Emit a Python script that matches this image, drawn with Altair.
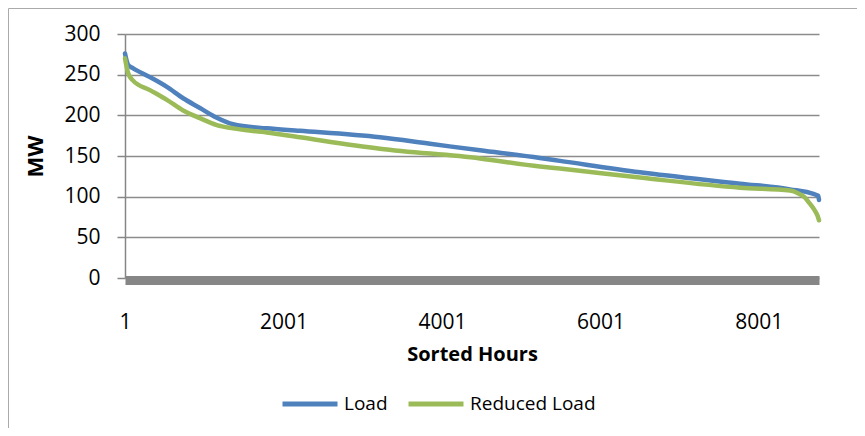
import altair as alt
import pandas as pd

FONT = "Open Sans"

# Sorted-hour positions and values
load_hours = [1, 40, 100, 316, 530, 735, 947, 1160, 1365, 1790, 2209, 3219, 3850,
              4481, 5238, 5490, 6500, 7763, 8394, 8700, 8750, 8760]
load_mw = [276, 262, 258, 247, 235, 221, 209, 197, 189, 184, 181, 173, 165,
           157, 147.5, 144, 130, 116, 109, 103, 101, 96]

reduced_hours = [1, 40, 100, 316, 530, 735, 947, 1160, 1365, 1790, 2209, 3219, 4481,
                 5238, 5490, 6500, 7763, 8394, 8500, 8580, 8640, 8700, 8740, 8760]
reduced_mw = [270, 252, 243, 231, 219, 206, 196.5, 188, 184, 179, 173, 159, 147,
              137, 134.5, 123.5, 111, 107.5, 104, 99, 92, 84, 77, 71]

series_names = ["Load", "Reduced Load"]
series_colors = ["#4F81BD", "#9BBB59"]
x_tick_values = [1, 2001, 4001, 6001, 8001]
y_tick_values = [0, 50, 100, 150, 200, 250, 300]

rows = []
for h, v in zip(load_hours, load_mw):
    rows.append({"hour": h, "value": v, "series": "Load"})
for h, v in zip(reduced_hours, reduced_mw):
    rows.append({"hour": h, "value": v, "series": "Reduced Load"})
df = pd.DataFrame(rows)

x = alt.X(
    "hour:Q",
    scale=alt.Scale(domain=[1, 8760], nice=False, zero=False),
    axis=alt.Axis(
        values=x_tick_values, format="d", ticks=False, grid=False,
        domainColor="#868686", domainWidth=9, offset=2,
        labelFont=FONT, labelFontSize=21, labelColor="black", labelPadding=31,
        labelFlush=False, labelOverlap=False,
        title="Sorted Hours", titleFont=FONT, titleFontSize=20, titleFontWeight="bold",
        titleColor="black", titlePadding=12,
    ),
)
y = alt.Y(
    "value:Q",
    scale=alt.Scale(domain=[0, 300], nice=False),
    axis=alt.Axis(
        values=y_tick_values, tickSize=8, tickColor="#868686", tickWidth=1.5,
        domainColor="#868686", domainWidth=1.5,
        grid=True, gridColor="#8c8c8c", gridWidth=1.5,
        labelFont=FONT, labelFontSize=21, labelColor="black", labelPadding=17,
        title="MW", titleFont=FONT, titleFontSize=22, titleFontWeight="bold",
        titleColor="black", titleX=-90, titleY=122, titleAngle=-90,
        titleBaseline="middle", titleAlign="center",
    ),
)

color = alt.Color(
    "series:N",
    scale=alt.Scale(domain=series_names, range=series_colors),
    legend=alt.Legend(
        orient="none", legendX=155, legendY=340, direction="horizontal", title=None,
        symbolType="stroke", symbolSize=3025, symbolStrokeWidth=5,
        labelFont=FONT, labelFontSize=19, labelColor="black", labelOffset=4,
        columnPadding=10,
    ),
)

lines = alt.Chart(df).mark_line(strokeWidth=4.5, strokeCap="round", interpolate="monotone").encode(
    x=x, y=y, color=color, order=alt.Order("hour:Q"), detail="series:N"
)

border_df = pd.DataFrame({"k": [0]})
top_border = alt.Chart(border_df).mark_rule(color="#aaaaaa", strokeWidth=1).encode(
    x=alt.value(-116.5), x2=alt.value(740), y=alt.value(-25.5)
)
left_border = alt.Chart(border_df).mark_rule(color="#aaaaaa", strokeWidth=1).encode(
    x=alt.value(-116.5), y=alt.value(-25.5), y2=alt.value(420)
)

chart = alt.layer(top_border, left_border, lines).properties(
    width=694, height=244,
    padding={"left": 117, "top": 26, "right": 38, "bottom": 150},
    autosize=alt.AutoSizeParams(type="none"),
    background="white",
).configure_view(strokeWidth=0)

chart.save("out.html", embed_options={"renderer": "svg", "actions": False})
